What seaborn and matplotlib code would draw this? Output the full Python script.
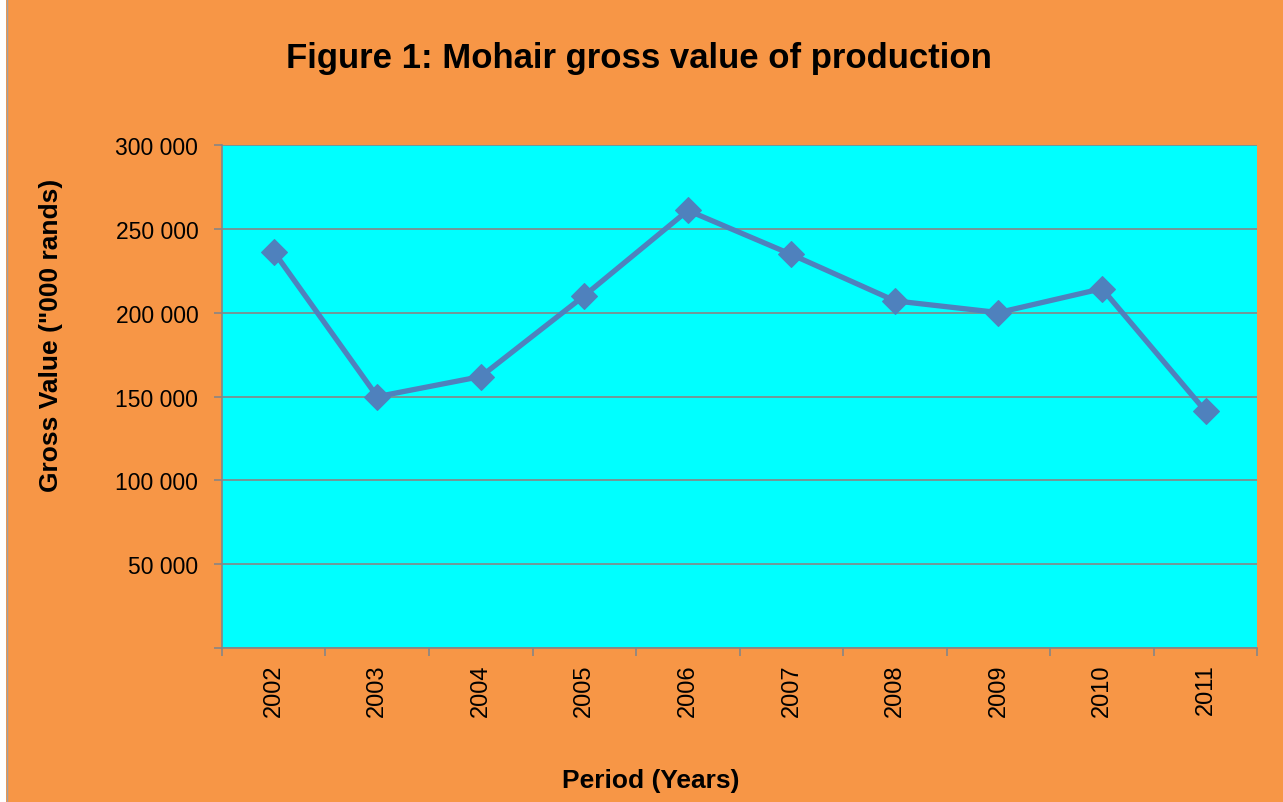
import matplotlib.pyplot as plt
import matplotlib.patches as mpatches
from matplotlib.ticker import FuncFormatter, FixedLocator
import seaborn as sns
import pandas as pd

# Datos
years = ['2002', '2003', '2004', '2005', '2006', '2007', '2008', '2009', '2010', '2011']
gross_value = [236600, 150000, 162000, 210300, 261200, 234900, 207200, 200200, 214500, 141300]
y_ticks = [50000, 100000, 150000, 200000, 250000, 300000]

sns.set_style('white')
plt.rcParams['font.family'] = ['Liberation Sans', 'DejaVu Sans']
plt.rcParams['text.color'] = 'black'

df = pd.DataFrame({'Year': years, 'Value': gross_value})
df['pos'] = range(len(years))

orange = '#F79646'
fig = plt.figure(figsize=(12.83, 8.03), dpi=100, facecolor=orange)
ax = fig.add_axes([0.173, 0.192, 0.807, 0.6256])
ax.set_facecolor('#00FFFF')

# franja blanca a la izquierda
fig.patches.append(mpatches.Rectangle((0, 0), 6 / 1283, 1, transform=fig.transFigure,
                                      facecolor='white', edgecolor='none', zorder=0))
fig.lines.append(plt.Line2D([6.5 / 1283, 6.5 / 1283], [0, 1], transform=fig.transFigure,
                            color='#A0A0A0', lw=1))

sns.lineplot(data=df, x='pos', y='Value', ax=ax, color='#4F81BD', lw=3.8,
             marker='D', markersize=13, markeredgecolor='#4F81BD', zorder=3)

ax.set_xlim(-0.5, len(years) - 0.5)
ax.set_ylim(0, 300000)
ax.yaxis.set_major_locator(FixedLocator([0] + y_ticks))
ax.yaxis.set_major_formatter(FuncFormatter(lambda v, p: '' if v == 0 else f'{int(v):,}'.replace(',', ' ')))
ax.grid(axis='y', color='#868686', lw=1.2)
ax.set_axisbelow(True)

ax.set_xticks(range(len(years)))
ax.set_xticklabels(years, rotation=90, fontsize=17)
ax.set_xticks([i - 0.5 for i in range(len(years) + 1)], minor=True)
ax.tick_params(axis='x', which='major', length=0, pad=11, labelcolor='black')
ax.tick_params(axis='x', which='minor', length=6, width=1.2, color='#868686', direction='out', bottom=True)
ax.tick_params(axis='y', length=6, width=1.2, color='#868686', direction='out', left=True,
               labelsize=16.5, pad=11, labelcolor='black')

for side in ['top', 'right']:
    ax.spines[side].set_visible(False)
for side in ['left', 'bottom']:
    ax.spines[side].set_color('#868686')
    ax.spines[side].set_linewidth(1.2)

ax.set_xlabel('')
ax.set_ylabel('')
fig.text(0.498, 0.927, 'Figure 1: Mohair gross value of production', ha='center', va='center',
         fontsize=25, fontweight='bold', color='black')
fig.text(0.507, 0.027, 'Period (Years)', ha='center', va='center', fontsize=19, fontweight='bold', color='black')
fig.text(0.04, 0.582, 'Gross Value ("000 rands)', ha='center', va='center', rotation=90,
         fontsize=19, fontweight='bold', color='black')

fig.savefig('out.png', dpi=100, facecolor=orange)
